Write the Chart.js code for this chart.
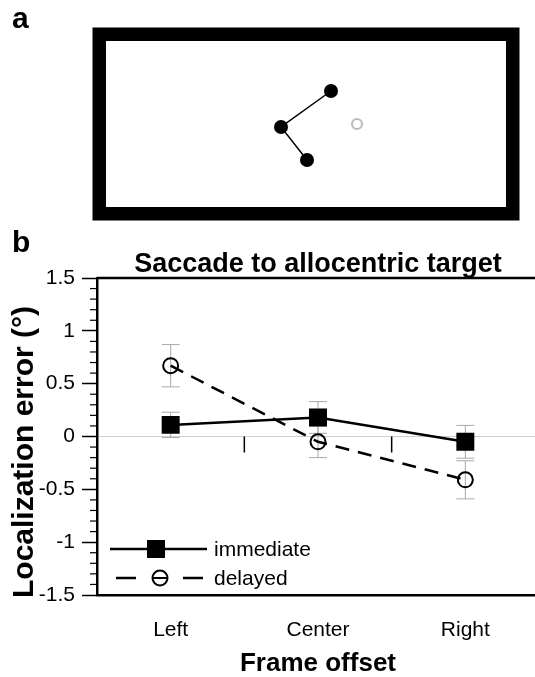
<!DOCTYPE html>
<html>
<head>
<meta charset="utf-8">
<script src="https://cdn.jsdelivr.net/npm/chart.js@4.4.1/dist/chart.umd.min.js"></script>
<style>
html, body { margin: 0; padding: 0; background: #fff; overflow: hidden; width: 535px; height: 677px; }
#frameChart { position: absolute; left: 0; top: 0; }
#errorChart { position: absolute; left: 0; top: 230px; }
</style>
</head>
<body>
<canvas id="frameChart" width="535" height="230"></canvas>
<canvas id="errorChart" width="545" height="447"></canvas>
<script>
const FONT = '"Liberation Sans", Arial, Helvetica, sans-serif';

// panel a - stimulus layout (deg)
const frameX = [-20, 20];
const frameY = [-8.3, 8.3];
const landmarkX = [2.5, -2.5, 0.1];
const landmarkY = [3.3, -0.3, -3.6];
const targetX = [5.1];
const targetY = [0];

// panel b - localization error (deg)
const offsets = ['Left', 'Center', 'Right'];
const immediate = [0.11, 0.18, -0.05];
const immediateErr = [0.12, 0.15, 0.155];
const delayed = [0.67, -0.05, -0.41];
const delayedErr = [0.2, 0.15, 0.18];
const yTicks = [-1.5, -1, -0.5, 0, 0.5, 1, 1.5];

Chart.defaults.font.family = FONT;
Chart.defaults.color = '#000';

// ---------- panel a ----------
const stimulusFrame = {
    id: 'stimulusFrame',
    afterDraw(chart) {
        const { ctx, chartArea: a } = chart;
        ctx.save();
        ctx.lineWidth = 13.5;
        ctx.strokeStyle = '#000';
        ctx.strokeRect(a.left - 6.75, a.top - 6.75, a.right - a.left + 13.5, a.bottom - a.top + 13.5);
        ctx.font = 'bold 30px ' + FONT;
        ctx.fillStyle = '#000';
        ctx.textBaseline = 'alphabetic';
        ctx.fillText('a', 12, 28);
        ctx.restore();
    }
};

new Chart(document.getElementById('frameChart'), {
    type: 'scatter',
    data: {
        datasets: [{
            data: landmarkX.map((x, i) => ({ x: x, y: landmarkY[i] })),
            showLine: true,
            borderColor: '#000',
            borderWidth: 1.5,
            pointRadius: 7,
            pointBackgroundColor: '#000',
            pointBorderWidth: 0
        }, {
            data: targetX.map((x, i) => ({ x: x, y: targetY[i] })),
            pointRadius: 5,
            pointBorderWidth: 2.2,
            pointBorderColor: '#bdbdbd',
            pointBackgroundColor: 'transparent'
        }]
    },
    options: {
        responsive: false,
        animation: false,
        layout: { autoPadding: false, padding: { left: 106, right: 29, top: 41, bottom: 23 } },
        scales: {
            x: { type: 'linear', min: frameX[0], max: frameX[1], display: false },
            y: { type: 'linear', min: frameY[0], max: frameY[1], display: false }
        },
        plugins: { legend: { display: false }, tooltip: { enabled: false } }
    },
    plugins: [stimulusFrame]
});

// ---------- panel b ----------
const errorBars = {
    id: 'errorBars',
    beforeDatasetsDraw(chart) {
        const { ctx, scales: { x, y } } = chart;
        ctx.save();
        ctx.strokeStyle = '#a8a8a8';
        ctx.lineWidth = 1;
        chart.data.datasets.forEach(ds => {
            ds.data.forEach((v, i) => {
                const px = x.getPixelForValue(i);
                const top = y.getPixelForValue(v + ds.errors[i]);
                const bot = y.getPixelForValue(v - ds.errors[i]);
                ctx.beginPath();
                ctx.moveTo(px, top); ctx.lineTo(px, bot);
                ctx.moveTo(px - 9, top); ctx.lineTo(px + 9, top);
                ctx.moveTo(px - 9, bot); ctx.lineTo(px + 9, bot);
                ctx.stroke();
            });
        });
        ctx.restore();
    }
};

const decorations = {
    id: 'decorations',
    beforeDatasetsDraw(chart) {
        const { ctx, chartArea: a, scales: { x, y } } = chart;
        ctx.save();
        // top and right frame
        ctx.strokeStyle = '#000';
        ctx.lineWidth = 2.5;
        ctx.beginPath();
        ctx.moveTo(a.left, a.top); ctx.lineTo(a.right, a.top); ctx.lineTo(a.right, a.bottom);
        ctx.stroke();
        // small ticks between categories on the zero line
        const y0 = y.getPixelForValue(0);
        ctx.lineWidth = 1.5;
        for (let i = 0; i < offsets.length - 1; i++) {
            const px = (x.getPixelForValue(i) + x.getPixelForValue(i + 1)) / 2;
            ctx.beginPath();
            ctx.moveTo(px, y0); ctx.lineTo(px, y0 + 16);
            ctx.stroke();
        }
        // minor y ticks every 0.1
        ctx.lineWidth = 1.2;
        for (let k = -15; k <= 15; k++) {
            if (k % 5 === 0) continue;
            const py = y.getPixelForValue(k / 10);
            ctx.beginPath();
            ctx.moveTo(a.left - 7, py); ctx.lineTo(a.left, py);
            ctx.stroke();
        }
        ctx.restore();
    },
    afterDraw(chart) {
        const { ctx, chartArea: a } = chart;
        ctx.save();
        ctx.fillStyle = '#000';
        // panel letter
        ctx.font = 'bold 30px ' + FONT;
        ctx.textAlign = 'left';
        ctx.textBaseline = 'alphabetic';
        ctx.fillText('b', 12, 22);
        // title
        ctx.font = 'bold 27px ' + FONT;
        ctx.textAlign = 'center';
        ctx.fillText('Saccade to allocentric target', (a.left + a.right) / 2, 42);
        // y axis label
        ctx.save();
        ctx.translate(33, 222);
        ctx.rotate(-Math.PI / 2);
        ctx.font = 'bold 30px ' + FONT;
        ctx.textAlign = 'center';
        ctx.fillText('Localization error (\u00b0)', 0, 0);
        ctx.restore();
        // legend
        const ds = chart.data.datasets;
        const rows = [a.bottom - 46, a.bottom - 17];
        const markerX = [a.left + 59, a.left + 63];
        ctx.font = '21px ' + FONT;
        ctx.textAlign = 'left';
        ctx.textBaseline = 'middle';
        ds.forEach((d, i) => {
            const ly = rows[i];
            const mx = markerX[i];
            ctx.strokeStyle = '#000';
            ctx.lineWidth = 2.5;
            ctx.beginPath();
            if (d.borderDash) {
                ctx.moveTo(a.left + 19, ly); ctx.lineTo(a.left + 39, ly);
                ctx.moveTo(a.left + 86, ly); ctx.lineTo(a.left + 106, ly);
            } else {
                ctx.moveTo(a.left + 13, ly); ctx.lineTo(a.left + 110, ly);
            }
            ctx.stroke();
            ctx.fillStyle = d.pointBackgroundColor;
            ctx.strokeStyle = d.pointBorderColor;
            ctx.lineWidth = d.pointBorderWidth;
            Chart.helpers.drawPoint(ctx, {
                pointStyle: d.pointStyle,
                radius: d.pointRadius,
                borderWidth: d.pointBorderWidth,
                rotation: 0
            }, mx, ly);
            if (d.pointBorderWidth) {
                ctx.beginPath();
                ctx.moveTo(mx - d.pointRadius, ly); ctx.lineTo(mx + d.pointRadius, ly);
                ctx.stroke();
            }
            ctx.fillStyle = '#000';
            ctx.fillText(d.label, a.left + 117, ly + 1);
        });
        ctx.restore();
    }
};

new Chart(document.getElementById('errorChart'), {
    type: 'line',
    data: {
        labels: offsets,
        datasets: [{
            label: 'immediate',
            data: immediate,
            errors: immediateErr,
            borderColor: '#000',
            borderWidth: 2.5,
            pointStyle: 'rect',
            pointRadius: 12.7,
            pointBorderWidth: 0,
            pointBackgroundColor: '#000',
            pointBorderColor: '#000',
            fill: false
        }, {
            label: 'delayed',
            data: delayed,
            errors: delayedErr,
            borderColor: '#000',
            borderWidth: 2.5,
            borderDash: [14, 9],
            pointStyle: 'circle',
            pointRadius: 7.5,
            pointBorderWidth: 2,
            pointBackgroundColor: 'transparent',
            pointBorderColor: '#000',
            fill: false
        }]
    },
    options: {
        responsive: false,
        animation: false,
        layout: { autoPadding: false, padding: { left: 0, right: 6, top: 48, bottom: 0 } },
        scales: {
            x: {
                type: 'category',
                offset: true,
                grid: { display: false, offset: true },
                border: { display: true, color: '#000', width: 2.5 },
                ticks: { font: { size: 21 }, padding: 15, maxRotation: 0 },
                title: { display: true, text: 'Frame offset', font: { size: 26, weight: 'bold' }, padding: { top: 0, bottom: -2 } },
                afterFit(scale) { scale.height = 82; }
            },
            y: {
                min: -1.5,
                max: 1.5,
                afterBuildTicks(scale) { scale.ticks = yTicks.map(v => ({ value: v })); },
                grid: {
                    color: ctx => ctx.tick && ctx.tick.value === 0 ? '#cfcfcf' : 'transparent',
                    lineWidth: 1,
                    tickColor: '#000',
                    tickLength: 15,
                    tickWidth: 1.5
                },
                border: { display: true, color: '#000', width: 2.5 },
                ticks: {
                    font: { size: 21 },
                    padding: 7,
                    autoSkip: false,
                    callback: v => String(Math.round(v * 10) / 10)
                },
                afterFit(scale) { scale.width = 97; }
            }
        },
        plugins: { legend: { display: false }, tooltip: { enabled: false } }
    },
    plugins: [errorBars, decorations]
});
</script>
</body>
</html>
